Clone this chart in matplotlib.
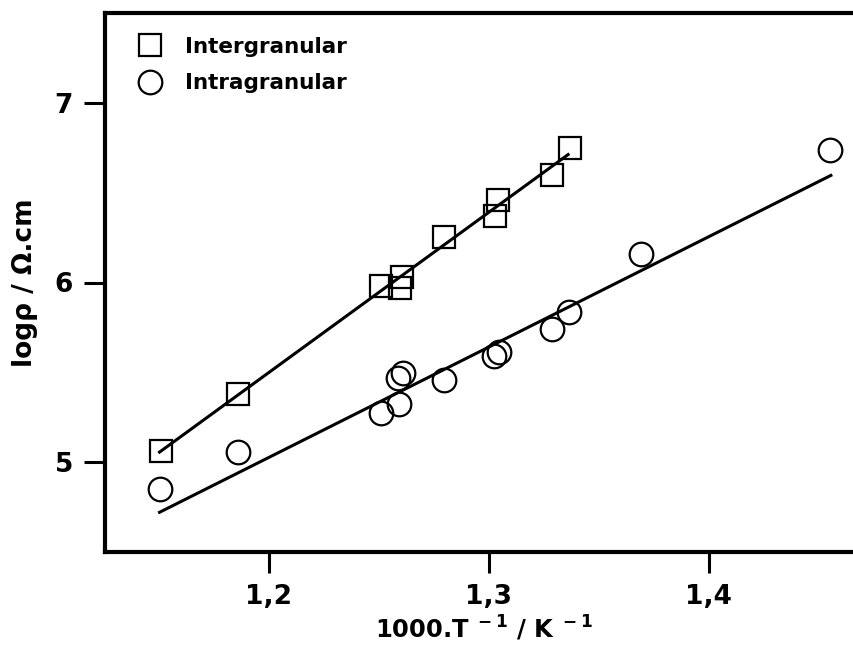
import matplotlib
matplotlib.use("Agg")
import matplotlib.pyplot as plt

plt.rcParams["font.family"] = ["DejaVu Sans"]
plt.rcParams["font.weight"] = "bold"
plt.rcParams["mathtext.fontset"] = "dejavusans"
plt.rcParams["mathtext.default"] = "bf"

# Intergranular (squares)
inter_x = [1.1508, 1.1862, 1.2510, 1.2595, 1.2605, 1.2795, 1.3030, 1.3044, 1.3287, 1.3370]
inter_y = [5.061, 5.379, 5.983, 5.970, 6.030, 6.256, 6.368, 6.457, 6.596, 6.746]
inter_fit_x = [1.1503, 1.3361]
inter_fit_y = [5.056, 6.712]

# Intragranular (circles)
intra_x = [1.1503, 1.1860, 1.2510, 1.2593, 1.2588, 1.2610, 1.2795, 1.3025, 1.3048, 1.3290, 1.3365, 1.3692, 1.4552]
intra_y = [4.850, 5.056, 5.273, 5.323, 5.468, 5.496, 5.457, 5.590, 5.613, 5.741, 5.836, 6.156, 6.738]
intra_fit_x = [1.1503, 1.4556]
intra_fit_y = [4.721, 6.596]

xticks = [1.2, 1.3, 1.4]
xtick_labels = ["1,2", "1,3", "1,4"]
yticks = [5, 6, 7]

fig = plt.figure(figsize=(8.54, 6.5), dpi=100)
ax = fig.add_axes([105 / 854, 1 - 552 / 650, 1 - 105 / 854 + 0.01, (552 - 13) / 650])

ax.plot(inter_fit_x, inter_fit_y, color="black", lw=2.2)
ax.plot(intra_fit_x, intra_fit_y, color="black", lw=2.2)
ax.plot(inter_x, inter_y, ls="none", marker="s", ms=15.5, mfc="none", mec="black", mew=1.6,
        label="Intergranular")
ax.plot(intra_x, intra_y, ls="none", marker="o", ms=17, mfc="none", mec="black", mew=1.6,
        label="Intragranular")

ax.set_xlim(1.1255, 1.47)
ax.set_ylim(4.5, 7.5)
ax.set_xticks(xticks)
ax.set_xticklabels(xtick_labels)
ax.set_yticks(yticks)
ax.tick_params(direction="out", length=15, width=2.2, labelsize=19, pad=8)

for side in ["left", "bottom", "top"]:
    ax.spines[side].set_linewidth(3)
ax.spines["right"].set_visible(False)

ax.set_xlabel(r"1000.T$^{\ -1}$ / K$^{\ -1}$", fontsize=17.5, fontweight="bold", labelpad=3)
ax.set_ylabel("logρ / Ω.cm", fontsize=19, fontweight="bold", labelpad=12)

ax.legend(loc="upper left", bbox_to_anchor=(140 / 854, 1 - 37 / 650),
          bbox_transform=fig.transFigure, frameon=False,
          handlelength=0.9, handletextpad=1.2, borderpad=0, borderaxespad=0,
          labelspacing=0.75, prop={"weight": "bold", "size": 15.5})

fig.savefig("out.png", dpi=100)
